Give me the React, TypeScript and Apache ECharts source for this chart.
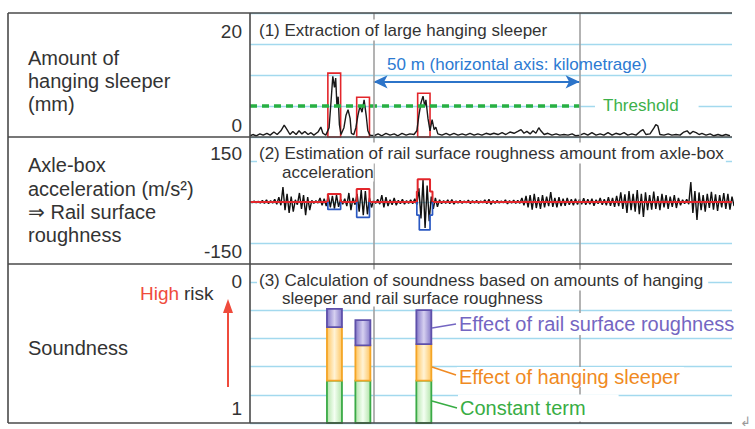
import React, { useEffect, useRef } from "react";
import * as echarts from "echarts";

// ---------- data ----------
const X_MAX_M = 117;
const SECTION_LINES_M = [30, 80];

// (1) hanging sleeper amount (mm) along kilometrage (m)
const HANG_KM = [0, 0.7, 1.5, 2.4, 3.2, 4.1, 4.9, 5.8, 6.6, 7.5, 8.3, 9.0, 9.7, 10.4, 11.2, 11.9, 12.6, 13.3, 14.1, 14.8, 15.5, 16.5, 17.2, 17.7, 18.4, 19.2, 19.7, 20.1, 20.5, 20.8, 21.1, 21.4, 21.7, 22.1, 22.8, 23.3, 23.8, 24.3, 24.6, 25.2, 25.7, 26.2, 26.7, 27.2, 27.7, 28.2, 28.6, 29.1, 30.1, 31.1, 32.0, 33.0, 34.0, 35.0, 35.9, 36.9, 37.9, 38.8, 39.8, 40.5, 41.0, 41.5, 42.0, 42.4, 42.7, 43.2, 43.7, 44.2, 44.7, 45.1, 45.6, 46.6, 47.6, 48.5, 49.5, 50.5, 51.5, 52.4, 53.4, 54.4, 55.3, 56.3, 57.3, 58.3, 59.2, 60.2, 61.2, 62.1, 63.1, 64.1, 65.0, 65.8, 66.5, 67.2, 68.0, 68.7, 69.4, 70.1, 70.6, 71.4, 72.3, 73.3, 74.3, 75.2, 76.2, 77.2, 78.2, 79.1, 80.1, 81.1, 82.0, 83.0, 84.0, 85.0, 85.9, 86.9, 87.9, 88.8, 89.8, 90.8, 91.7, 92.7, 93.7, 94.7, 95.4, 96.1, 97.1, 98.1, 98.5, 99.0, 99.5, 100.5, 101.5, 102.4, 103.4, 104.4, 105.3, 106.1, 106.8, 107.5, 108.3, 109.0, 109.7, 110.7, 111.7, 112.6, 113.6, 114.6, 115.5, 116.5];
const HANG_MM = [0.2, 0.4, 0.2, 0.5, 0.3, 0.6, 0.3, 0.8, 0.4, 1.0, 1.9, 1.2, 0.4, 0.9, 0.4, 1.0, 0.5, 0.9, 0.4, 0.7, 0.3, 0.8, 1.6, 0.6, 0.3, 1.5, 6.0, 9.8, 8.0, 9.5, 5.0, 6.5, 2.0, 0.4, 1.5, 3.5, 4.4, 3.0, 0.6, 0.4, 1.5, 3.5, 5.0, 4.0, 6.0, 3.5, 1.0, 0.3, 0.2, 0.5, 0.2, 0.6, 0.3, 0.5, 0.2, 0.6, 0.3, 0.5, 0.4, 1.0, 3.5, 5.5, 6.6, 5.0, 6.0, 3.0, 1.0, 2.8, 1.2, 1.6, 0.5, 0.3, 0.6, 0.3, 0.6, 0.3, 0.5, 0.3, 0.6, 0.3, 0.5, 0.3, 0.6, 0.4, 0.6, 0.4, 0.7, 0.4, 0.8, 0.6, 0.9, 1.2, 0.6, 0.9, 0.5, 1.0, 0.6, 1.5, 1.0, 0.4, 0.6, 0.3, 0.5, 0.3, 0.4, 0.3, 0.5, 0.2, 0.3, 0.6, 0.3, 0.7, 0.3, 0.5, 0.3, 0.7, 0.3, 0.6, 0.4, 0.7, 0.3, 0.5, 0.3, 0.9, 1.2, 0.4, 0.5, 1.5, 2.0, 1.8, 0.4, 0.3, 0.5, 0.3, 0.4, 0.3, 0.8, 1.0, 0.5, 0.9, 0.7, 0.4, 0.6, 0.3, 0.5, 0.2, 0.4, 0.2, 0.4, 0.2];
// extracted boxes: [from m, to m, top mm]
const HANG_BOXES = [[18.9, 22.0, 10.3], [25.9, 29.0, 6.4], [40.7, 43.7, 7.05]];
const THRESHOLD_MM = 5;
const THRESHOLD_END_M = 80;
const SPAN_ARROW_M = [30, 80];
const SPAN_ARROW_MM = 8.9;

// (2) axle-box acceleration: positive / negative peaks per metre (m/s2)
const ACC_UP = [3, 4, 3, 6, 8, 5, 10, 18, 55, 30, 20, 8, 33, 25, 18, 6, 5, 15, 12, 25, 22, 25, 10, 12, 33, 15, 30, 44, 40, 15, 6, 10, 25, 18, 8, 15, 6, 10, 5, 8, 12, 50, 80, 60, 20, 15, 8, 5, 8, 9, 4, 6, 4, 7, 5, 6, 4, 8, 10, 5, 6, 4, 8, 5, 7, 6, 15, 22, 25, 30, 18, 25, 20, 36, 15, 18, 12, 15, 10, 12, 10, 14, 10, 12, 8, 15, 10, 18, 15, 22, 35, 28, 40, 30, 44, 30, 35, 25, 38, 22, 30, 25, 20, 25, 15, 8, 10, 73, 40, 35, 25, 30, 37, 28, 25, 33, 30, 20];
const ACC_DN = [-3, -3, -4, -5, -6, -4, -8, -12, -30, -40, -35, -10, -25, -48, -30, -5, -4, -12, -15, -20, -24, -18, -8, -15, -30, -10, -35, -48, -45, -20, -5, -8, -20, -15, -10, -12, -6, -8, -5, -6, -10, -60, -95, -70, -25, -18, -6, -5, -6, -8, -4, -5, -3, -6, -4, -5, -3, -6, -9, -5, -4, -3, -7, -4, -5, -5, -12, -20, -28, -22, -25, -20, -15, -18, -20, -15, -14, -10, -12, -9, -8, -10, -8, -14, -6, -10, -12, -14, -18, -15, -25, -40, -30, -35, -45, -55, -30, -28, -25, -30, -20, -25, -18, -22, -12, -6, -8, -40, -66, -30, -35, -22, -28, -33, -20, -25, -28, -15];
// estimated roughness envelope
const ROUGH_UP_KM = [0, 18.9, 18.9, 22.0, 22.0, 25.9, 25.9, 29.0, 29.0, 40.5, 40.5, 40.7, 40.7, 43.7, 43.7, 44.3, 44.3, 117];
const ROUGH_UP_VAL = [0, 0, 29, 29, 0, 0, 48, 48, 0, 0, 38, 38, 83, 83, 38, 38, 0, 0];
const ROUGH_DN_KM = [[18.9, 18.9, 22.0, 22.0], [25.9, 25.9, 29.0, 29.0], [40.5, 40.5, 41.1, 41.1, 43.7, 43.7, 44.3, 44.3]];
const ROUGH_DN_VAL = [[0, -27, -27, 0], [0, -56, -56, 0], [0, -48, -48, -102, -102, -48, -48, 0]];

// (3) soundness components (risk contributions, stacked from soundness 1 upward)
const BAR_KM = [20.5, 27.4, 42.2];
const CONSTANT_TERM = [0.30, 0.30, 0.30];
const HANGING_EFFECT = [0.38, 0.25, 0.26];
const ROUGHNESS_EFFECT = [0.13, 0.18, 0.24];

const TICK_LABELS = ["20", "0", "150", "-150", "0", "1"];

// ---------- styling ----------
const FONT = "'Liberation Sans', Arial, Helvetica, sans-serif";
const GRID_BLUE = "#a3d9ee";
const DARK = "#4a4a4a";
const TXT = "#333333";

function txt(text: string, x: number, y: number, size: number, fill: string, extra: any = {}) {
  const align = extra.align || "left";
  return {
    type: "text",
    x,
    y,
    z: 100,
    style: {
      text,
      fill,
      font: `${size}px ${FONT}`,
      align,
      textAlign: align,
      verticalAlign: "middle",
      textVerticalAlign: "middle",
      ...extra,
    },
  };
}
function ln(x1: number, y1: number, x2: number, y2: number, stroke: string, lineWidth: number) {
  return { type: "line", z: 100, shape: { x1, y1, x2, y2 }, style: { stroke, lineWidth } };
}
function grad(edge: string, center: string) {
  return new echarts.graphic.LinearGradient(0, 0, 1, 0, [
    { offset: 0, color: edge },
    { offset: 0.5, color: center },
    { offset: 1, color: edge },
  ]);
}

export default function App() {
  const ref = useRef<HTMLDivElement>(null);
  useEffect(() => {
    if (!ref.current) return;
    const chart = echarts.init(ref.current, undefined, { renderer: "svg" });

    const grids = [
      { left: 250, right: 23, top: 13, height: 124 },
      { left: 250, right: 23, top: 161, height: 82 },
      { left: 250, right: 23, top: 282, height: 141 },
      { left: 250, right: 23, top: 13, height: 410 },
    ];
    const xAxes = grids.map((_, i) => ({ gridIndex: i, type: "value", min: 0, max: X_MAX_M, show: false }));
    const yBase = (i: number, min: number, max: number, interval: number) => ({
      gridIndex: i,
      type: "value",
      min,
      max,
      interval,
      axisLine: { show: false },
      axisTick: { show: false },
      axisLabel: { show: false },
      splitLine: { show: true, lineStyle: { color: GRID_BLUE, width: 1.3 } },
    });
    const yAxes = [
      yBase(0, 0, 20, 5),
      yBase(1, -150, 150, 150),
      yBase(2, 0, 1, 0.2),
      { gridIndex: 3, type: "value", min: 0, max: 1, show: false },
    ];

    const hangData = HANG_KM.map((k, i) => [k, HANG_MM[i]]);
    const accData: number[][] = [];
    ACC_UP.forEach((u, i) => {
      accData.push([i, u]);
      accData.push([i + 0.5, ACC_DN[i]]);
    });

    // stacked segments: [x, base, top]
    const components = [
      { vals: CONSTANT_TERM, fill: grad("#b3e4ab", "#f4fff2"), stroke: "#3aaa46" },
      { vals: HANGING_EFFECT, fill: grad("#ffc662", "#fff3d6"), stroke: "#f4a526" },
      { vals: ROUGHNESS_EFFECT, fill: grad("#8478c8", "#d6d0f0"), stroke: "#5e50aa" },
    ];
    const running = BAR_KM.map(() => 0);
    const barSeries = components.map((c) => {
      const data = BAR_KM.map((k, i) => {
        const base = running[i];
        running[i] = base + c.vals[i];
        return [k, base, running[i]];
      });
      return {
        type: "custom",
        xAxisIndex: 2,
        yAxisIndex: 2,
        z: 6,
        data,
        renderItem: (_p: any, api: any) => {
          const x = api.value(0);
          const p0 = api.coord([x, api.value(1)]);
          const p1 = api.coord([x, api.value(2)]);
          return {
            type: "rect",
            shape: { x: p0[0] - 7.5, y: p1[1], width: 15, height: p0[1] - p1[1] },
            style: { fill: c.fill, stroke: c.stroke, lineWidth: 1.8 },
          };
        },
      };
    });

    const series: any[] = [
      {
        type: "line",
        xAxisIndex: 0,
        yAxisIndex: 0,
        data: hangData,
        showSymbol: false,
        symbol: "none",
        lineStyle: { color: "#1a1a1a", width: 1.4 },
        z: 3,
        markArea: {
          silent: true,
          itemStyle: { color: "rgba(0,0,0,0)", borderColor: "#e3262b", borderWidth: 1.6 },
          data: HANG_BOXES.map(([a, b, t]) => [
            { coord: [a, 0] },
            { coord: [b, t] },
          ]),
        },
      },
      {
        type: "line",
        xAxisIndex: 0,
        yAxisIndex: 0,
        data: [],
        z: 4,
        markLine: {
          silent: true,
          symbol: "none",
          label: { show: false },
          lineStyle: { color: "#27b043", width: 3.5, type: [7, 5] },
          data: [[{ coord: [0, THRESHOLD_MM] }, { coord: [THRESHOLD_END_M, THRESHOLD_MM] }]],
        },
      },
      {
        type: "line",
        xAxisIndex: 0,
        yAxisIndex: 0,
        data: [],
        z: 4,
        markLine: {
          silent: true,
          symbol: ["arrow", "arrow"],
          symbolSize: [10, 14],
          label: { show: false },
          lineStyle: { color: "#2c74c9", width: 2, type: "solid" },
          data: [[{ coord: [SPAN_ARROW_M[0], SPAN_ARROW_MM] }, { coord: [SPAN_ARROW_M[1], SPAN_ARROW_MM] }]],
        },
      },
      {
        type: "line",
        xAxisIndex: 1,
        yAxisIndex: 1,
        data: accData,
        showSymbol: false,
        symbol: "none",
        lineStyle: { color: "#111", width: 1.4 },
        z: 3,
      },
      {
        type: "line",
        xAxisIndex: 1,
        yAxisIndex: 1,
        data: ROUGH_UP_KM.map((k, i) => [k, ROUGH_UP_VAL[i]]),
        showSymbol: false,
        symbol: "none",
        lineStyle: { color: "#e3262b", width: 2 },
        z: 5,
      },
      ...ROUGH_DN_KM.map((ks, j) => ({
        type: "line",
        xAxisIndex: 1,
        yAxisIndex: 1,
        data: ks.map((k, i) => [k, ROUGH_DN_VAL[j][i]]),
        showSymbol: false,
        symbol: "none",
        lineStyle: { color: "#2a58c2", width: 1.7 },
        z: 5,
      })),
      {
        type: "line",
        xAxisIndex: 3,
        yAxisIndex: 3,
        data: [],
        z: 2,
        markLine: {
          silent: true,
          symbol: "none",
          label: { show: false },
          lineStyle: { color: "#a0a0a0", width: 1.6, type: "solid" },
          data: SECTION_LINES_M.map((m) => ({ xAxis: m })),
        },
      },
      ...barSeries,
    ];

    const P = "#7466c2";
    const O = "#f08a22";
    const G = "#38ad44";
    const elements: any[] = [
      // frame
      ln(8, 13, 732, 13, DARK, 1.6),
      ln(8, 137, 732, 137, DARK, 1.6),
      ln(8, 264, 732, 264, DARK, 1.6),
      ln(8, 423, 732, 423, DARK, 1.6),
      ln(8, 13, 8, 423, DARK, 1.6),
      ln(250, 13, 250, 423, DARK, 1.6),
      // left labels
      txt("Amount of", 28, 58, 20, TXT),
      txt("hanging sleeper", 28, 81, 20, TXT),
      txt("(mm)", 28, 104, 20, TXT),
      txt("Axle-box", 28, 165, 20, TXT),
      txt("acceleration (m/s\u00b2)", 28, 189, 20, TXT),
      txt("\u21d2 Rail surface", 28, 212, 20, TXT),
      txt("roughness", 28, 235, 20, TXT),
      txt("Soundness", 28, 348, 20, TXT),
      txt("High", 140, 293, 19, "#ef4b3c"),
      txt("risk", 184, 293, 19, TXT),
      ln(228, 387, 228, 310, "#ef4b3c", 2),
      { type: "polygon", z: 100, shape: { points: [[223, 313], [233, 313], [228, 299]] }, style: { fill: "#ef4b3c" } },
      // axis end labels
      txt(TICK_LABELS[0], 242, 31, 19, TXT, { align: "right" }),
      txt(TICK_LABELS[1], 242, 125, 19, TXT, { align: "right" }),
      txt(TICK_LABELS[2], 242, 153, 19, TXT, { align: "right" }),
      txt(TICK_LABELS[3], 242, 251, 19, TXT, { align: "right" }),
      txt(TICK_LABELS[4], 242, 281, 19, TXT, { align: "right" }),
      txt(TICK_LABELS[5], 242, 408, 19, TXT, { align: "right" }),
      // panel titles
      txt("(1) Extraction of large hanging sleeper", 257, 30, 17, TXT, { backgroundColor: "#fff", padding: [2, 2, 2, 2] }),
      txt("50 m (horizontal axis: kilometrage)", 387, 64, 17, "#2c7ad2"),
      txt("Threshold", 595, 105, 17, "#3cb04a", { backgroundColor: "#fff", padding: [2, 20, 2, 8] }),
      txt("(2) Estimation of rail surface roughness amount from axle-box", 257, 153, 17, TXT, { backgroundColor: "#fff", padding: [2, 2, 2, 2] }),
      txt("acceleration", 282, 172, 17, TXT, { backgroundColor: "#fff", padding: [1, 0, 1, 0] }),
      txt("(3) Calculation of soundness based on amounts of hanging", 257, 280, 17, TXT, { backgroundColor: "#fff", padding: [2, 5, 2, 2] }),
      txt("sleeper and rail surface roughness", 282, 298, 17, TXT, { backgroundColor: "#fff", padding: [0, 0, 0, 0] }),
      // component annotations
      ln(432, 328, 456, 324, P, 1.5),
      ln(432, 367, 456, 375, O, 1.5),
      ln(432, 401, 457, 408, G, 1.5),
      txt("Effect of rail surface roughness", 457, 324, 20, P, { backgroundColor: "#fff", padding: [1, 2, 1, 2] }),
      txt("Effect of hanging sleeper", 457, 377, 20, O, { backgroundColor: "#fff", padding: [0, 4, 0, 2] }),
      txt("Constant term", 458, 408, 20, G, { backgroundColor: "#fff", padding: [4, 33, 3, 2] }),
      txt("\u21b2", 740, 421, 13, "#9a9a9a"),
    ];

    chart.setOption({
      animation: false,
      backgroundColor: "#ffffff",
      grid: grids,
      xAxis: xAxes,
      yAxis: yAxes,
      series,
      graphic: { elements },
    });
    return () => chart.dispose();
  }, []);

  return <div ref={ref} style={{ position: "absolute", left: 0, top: 0, width: 755, height: 429 }} />;
}
